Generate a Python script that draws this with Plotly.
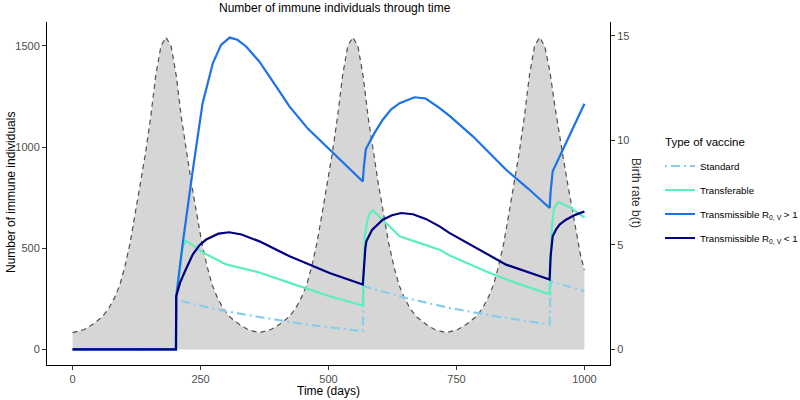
import plotly.graph_objects as go

# ---------------- data ----------------
birth_days = [0, 22.5, 39.5, 57.5, 70.5, 82.5, 92.5, 102.5, 112.5, 122.5, 132.5, 142.5, 152.5, 162.5, 172.5,
              182.5, 192.5, 202.5, 212.5, 222.5, 232.5, 242.5, 252.5, 262.5, 272.5, 282.5, 294.5, 307.5, 325.5, 342.5,
              365, 387.5, 404.5, 422.5, 435.5, 447.5, 457.5, 467.5, 477.5, 487.5, 497.5, 507.5, 517.5, 527.5, 537.5,
              547.5, 557.5, 567.5, 577.5, 587.5, 597.5, 607.5, 617.5, 627.5, 637.5, 647.5, 659.5, 672.5, 690.5, 707.5,
              730, 752.5, 769.5, 787.5, 800.5, 812.5, 822.5, 832.5, 842.5, 852.5, 862.5, 872.5, 882.5, 892.5, 902.5,
              912.5, 922.5, 932.5, 942.5, 952.5, 962.5, 972.5, 982.5, 992.5, 1000]
birth_rate = [0.8, 0.95, 1.2, 1.55, 1.95, 2.5, 3.1, 4.0, 5.1, 6.5, 7.9, 9.4, 11.1, 13.1, 14.5,
              14.93, 14.5, 13.1, 11.1, 9.4, 7.9, 6.5, 5.1, 4.0, 3.1, 2.5, 1.95, 1.55, 1.2, 0.95,
              0.8, 0.95, 1.2, 1.55, 1.95, 2.5, 3.1, 4.0, 5.1, 6.5, 7.9, 9.4, 11.1, 13.1, 14.5,
              14.93, 14.5, 13.1, 11.1, 9.4, 7.9, 6.5, 5.1, 4.0, 3.1, 2.5, 1.95, 1.55, 1.2, 0.95,
              0.8, 0.95, 1.2, 1.55, 1.95, 2.5, 3.1, 4.0, 5.1, 6.5, 7.9, 9.4, 11.1, 13.1, 14.5,
              14.93, 14.5, 13.3, 11.6, 10.0, 8.6, 7.2, 5.8, 4.5, 3.8]

std_t = [0, 202, 202.5, 280, 365, 460, 567, 569, 650, 736, 830, 932, 934, 1000]
std_n = [0, 0, 245, 198, 160, 122, 90, 312, 255, 205, 162, 123, 337, 288]

tf_t = [0, 202, 202.5, 206, 208, 210, 213, 216, 221, 230, 254, 300, 346, 365, 424, 502, 567,
        569, 571, 576, 581, 587, 600, 639, 680, 717, 736, 815, 870, 932,
        934, 937, 941, 948, 955, 973, 1000]
tf_n = [0, 0, 263, 310, 360, 411, 470, 512, 537, 524, 480, 420, 393, 380, 329, 263, 217,
        420, 560, 640, 675, 687, 655, 559, 524, 493, 465, 378, 325, 273,
        460, 620, 700, 727, 722, 700, 652]

hi_t = [0, 202, 202.5, 215, 235, 254, 274, 290, 307, 322, 339, 365, 395, 424, 460, 502, 535, 567,
        569, 573, 590, 606, 622, 639, 668, 690, 717, 736, 782, 847, 890, 932,
        934, 938, 964, 1000]
hi_n = [0, 0, 263, 520, 888, 1217, 1414, 1505, 1541, 1530, 1497, 1422, 1310, 1200, 1090, 987, 905, 830,
        900, 990, 1070, 1135, 1185, 1217, 1246, 1240, 1192, 1155, 1053, 888, 795, 699,
        780, 880, 1020, 1214]

lo_t = [0, 202, 202.5, 210, 222, 235, 248, 261, 285, 306, 330, 365, 424, 502, 567,
        569, 572, 574, 585, 606, 624, 642, 665, 690, 717, 736, 782, 847, 932,
        934, 938, 945, 952, 964, 982, 1000]
lo_n = [0, 0, 263, 330, 400, 470, 515, 543, 572, 579, 568, 534, 460, 378, 321,
        420, 500, 534, 590, 641, 663, 674, 668, 645, 608, 576, 510, 419, 345,
        460, 559, 595, 618, 641, 665, 682]

x_ticks = [0, 250, 500, 750, 1000]
n_ticks = [0, 500, 1000, 1500]
b_ticks = [0, 5, 10, 15]

series_names = ["Standard", "Transferable",
                "Transmissible R<sub>0, V</sub> &gt; 1",
                "Transmissible R<sub>0, V</sub> &lt; 1"]

# ---------------- figure ----------------
FONT = "Liberation Sans, Arial, sans-serif"
W, H = 800, 400
L, R, T, B = 47, 610, 22, 365
PW, PH = R - L, B - T


def px_x(p):
    return (p - L) / PW


def px_y(p):
    return (B - p) / PH


fig = go.Figure()

# birth rate area on primary axis (right side) so that it is drawn beneath the lines
fig.add_trace(go.Scatter(
    x=birth_days, y=birth_rate, yaxis="y", mode="lines",
    line=dict(color="#505050", width=1.2, dash="5px,4px"),
    fill="tozeroy", fillcolor="#D6D6D6", showlegend=False, hoverinfo="skip"))

colors = ["#87CEEB", "#5BEFBF", "#1C72E8", "#000080"]
dashes = ["2px,4px,9px,4px", "solid", "solid", "solid"]
for i, (name, xs, ys, c, d) in enumerate(zip(series_names, [std_t, tf_t, hi_t, lo_t],
                                               [std_n, tf_n, hi_n, lo_n], colors, dashes)):
    fig.add_trace(go.Scatter(x=xs, y=ys, yaxis="y2", mode="lines", name=name, legendgroup=f"g{i}",
                             line=dict(color=c, width=2.2, dash=d)))

axis_common = dict(showgrid=False, zeroline=False, showline=True, linecolor="black", linewidth=1,
                   ticks="outside", ticklen=4, tickcolor="#333333", automargin=False,
                   tickfont=dict(family=FONT, size=11, color="#4D4D4D"))

fig.update_layout(
    template="none",
    width=W, height=H,
    margin=dict(l=L, r=W - R, t=T, b=H - B, autoexpand=False),
    plot_bgcolor="white", paper_bgcolor="white",
    font=dict(family=FONT, color="black"),
    xaxis=dict(range=[-50, 1050], tickvals=x_ticks, **axis_common),
    yaxis=dict(range=[-0.745, 15.66], tickvals=b_ticks, side="right", **axis_common),
    yaxis2=dict(range=[-77, 1618], tickvals=n_ticks, side="left", overlaying="y", **axis_common),
    showlegend=True,
    legend=dict(x=px_x(660), xanchor="left", y=px_y(151.5), yanchor="top",
                font=dict(size=9.7, family=FONT, color="black"), tracegroupgap=5,
                bgcolor="rgba(0,0,0,0)", borderwidth=0),
    annotations=[
        dict(text="Number of immune individuals through time", xref="paper", yref="paper",
             x=px_x(335), y=px_y(8), xanchor="center", yanchor="middle", showarrow=False,
             font=dict(size=12, family=FONT, color="black")),
        dict(text="Type of vaccine", xref="paper", yref="paper", x=px_x(663), y=px_y(142),
             xanchor="left", yanchor="middle", showarrow=False,
             font=dict(size=11.5, family=FONT, color="black")),
        dict(text="Time (days)", xref="paper", yref="paper", x=px_x(328), y=px_y(391),
             xanchor="center", yanchor="middle", showarrow=False,
             font=dict(size=12, family=FONT, color="black")),
        dict(text="Number of immune individuals", xref="paper", yref="paper", x=px_x(11), y=px_y(193),
             xanchor="center", yanchor="middle", textangle=-90, showarrow=False,
             font=dict(size=12, family=FONT, color="black")),
        dict(text="Birth rate b(t)", xref="paper", yref="paper", x=px_x(636), y=px_y(193),
             xanchor="center", yanchor="middle", textangle=90, showarrow=False,
             font=dict(size=12, family=FONT, color="#333333")),
    ],
)

fig.write_html("out.html", config={"displayModeBar": False},
               post_script="document.body.style.margin='0px';")
